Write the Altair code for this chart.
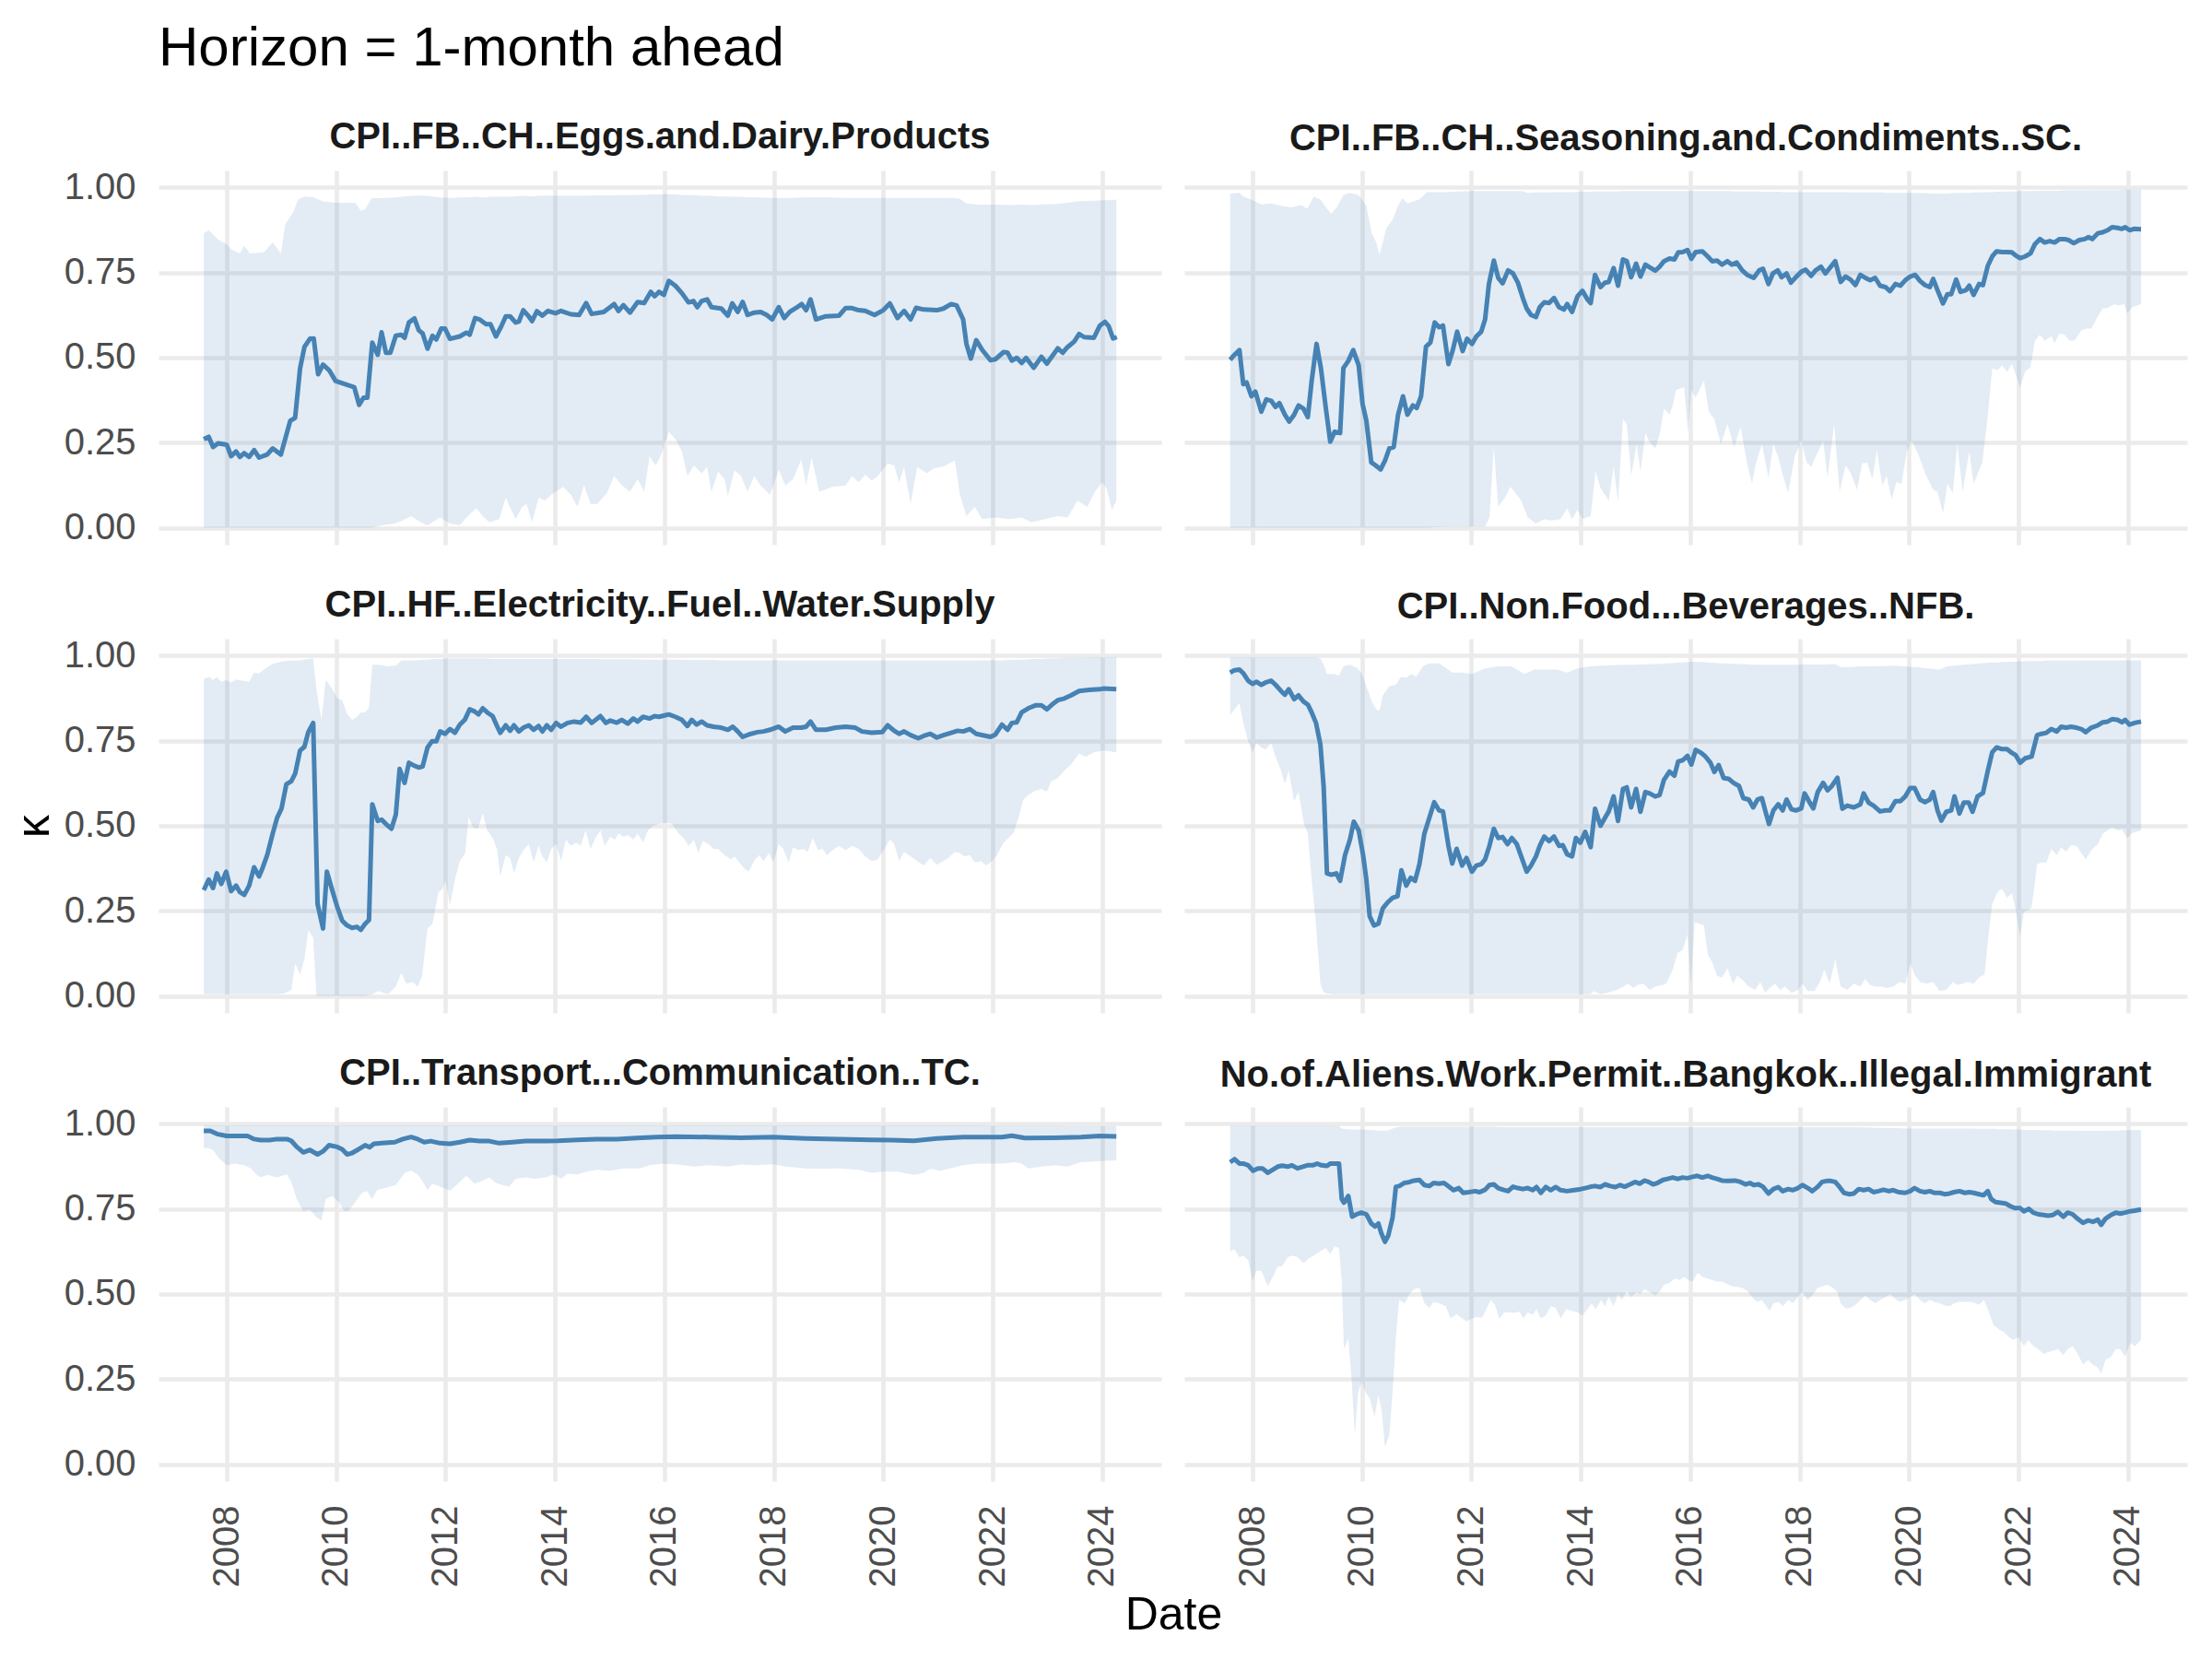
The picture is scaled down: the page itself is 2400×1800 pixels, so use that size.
import altair as alt
import pandas as pd

TITLE = "Horizon = 1-month ahead"
panel_names = [
    "CPI..FB..CH..Eggs.and.Dairy.Products",
    "CPI..FB..CH..Seasoning.and.Condiments..SC.",
    "CPI..HF..Electricity..Fuel..Water.Supply",
    "CPI..Non.Food...Beverages..NFB.",
    "CPI..Transport...Communication..TC.",
    "No.of.Aliens.Work.Permit..Bangkok..Illegal.Immigrant",
]
year_ticks = [2008, 2010, 2012, 2014, 2016, 2018, 2020, 2022, 2024]
k_ticks = [0.0, 0.25, 0.5, 0.75, 1.0]

# ---------------- Panel 1: Eggs and Dairy ----------------
eggs_line = [(2007.58,0.26),(2007.67,0.267),(2007.75,0.237),(2007.84,0.248),(2008.00,0.244),(2008.08,0.21),(2008.17,0.224),(2008.24,0.208),(2008.32,0.219),(2008.41,0.208),(2008.50,0.228),(2008.59,0.206),(2008.74,0.215),(2008.84,0.233),(2008.99,0.215),(2009.16,0.314),(2009.25,0.323),(2009.34,0.468),(2009.42,0.531),(2009.52,0.555),(2009.59,0.556),(2009.67,0.451),(2009.76,0.479),(2009.87,0.463),(2009.99,0.431),(2010.23,0.418),(2010.33,0.413),(2010.42,0.361),(2010.50,0.382),(2010.57,0.382),(2010.66,0.544),(2010.76,0.508),(2010.83,0.574),(2010.91,0.514),(2010.99,0.514),(2011.09,0.564),(2011.19,0.567),(2011.25,0.558),(2011.33,0.603),(2011.43,0.615),(2011.51,0.58),(2011.58,0.571),(2011.67,0.526),(2011.76,0.564),(2011.83,0.553),(2011.92,0.585),(2011.99,0.585),(2012.08,0.555),(2012.26,0.562),(2012.38,0.573),(2012.44,0.567),(2012.54,0.616),(2012.62,0.612),(2012.74,0.598),(2012.82,0.598),(2012.92,0.562),(2013.01,0.589),(2013.10,0.621),(2013.18,0.621),(2013.28,0.603),(2013.34,0.606),(2013.42,0.639),(2013.52,0.621),(2013.58,0.607),(2013.67,0.636),(2013.77,0.623),(2013.87,0.637),(2014.01,0.63),(2014.11,0.637),(2014.29,0.627),(2014.44,0.625),(2014.57,0.66),(2014.67,0.628),(2014.89,0.634),(2015.08,0.657),(2015.16,0.637),(2015.25,0.654),(2015.37,0.632),(2015.51,0.663),(2015.63,0.66),(2015.75,0.693),(2015.82,0.68),(2015.90,0.693),(2015.99,0.684),(2016.08,0.725),(2016.20,0.711),(2016.32,0.689),(2016.44,0.662),(2016.53,0.666),(2016.60,0.648),(2016.68,0.666),(2016.78,0.671),(2016.86,0.648),(2017.04,0.644),(2017.16,0.623),(2017.24,0.659),(2017.34,0.634),(2017.43,0.663),(2017.52,0.625),(2017.64,0.632),(2017.76,0.634),(2017.87,0.625),(2017.97,0.612),(2018.09,0.648),(2018.19,0.616),(2018.29,0.634),(2018.41,0.646),(2018.51,0.657),(2018.59,0.639),(2018.67,0.671),(2018.77,0.612),(2018.95,0.621),(2019.19,0.623),(2019.31,0.645),(2019.43,0.645),(2019.55,0.639),(2019.67,0.637),(2019.84,0.625),(2020.00,0.639),(2020.12,0.659),(2020.26,0.616),(2020.38,0.637),(2020.50,0.612),(2020.60,0.646),(2020.74,0.641),(2020.98,0.639),(2021.10,0.644),(2021.24,0.657),(2021.34,0.653),(2021.46,0.612),(2021.52,0.54),(2021.60,0.497),(2021.70,0.551),(2021.81,0.522),(2021.96,0.492),(2022.05,0.495),(2022.20,0.516),(2022.27,0.515),(2022.35,0.491),(2022.44,0.499),(2022.53,0.484),(2022.61,0.499),(2022.75,0.47),(2022.89,0.502),(2022.99,0.482),(2023.19,0.527),(2023.28,0.514),(2023.37,0.531),(2023.49,0.547),(2023.58,0.569),(2023.67,0.56),(2023.85,0.558),(2023.96,0.594),(2024.05,0.605),(2024.12,0.592),(2024.20,0.556),(2024.27,0.56)]
eggs_band = [(2007.58,0,0.865),(2007.67,0,0.874),(2007.84,0,0.847),(2008.00,0,0.833),(2008.08,0,0.818),(2008.24,0,0.806),(2008.32,0,0.829),(2008.42,0,0.806),(2008.68,0,0.809),(2008.84,0,0.838),(2008.99,0,0.806),(2009.07,0,0.892),(2009.22,0,0.928),(2009.30,0,0.964),(2009.42,0,0.973),(2009.58,0,0.971),(2009.76,0,0.959),(2009.99,0,0.955),(2010.35,0,0.955),(2010.45,0,0.932),(2010.53,0,0.936),(2010.65,0,0.968),(2010.83,0.007,0.968),(2011.07,0.012,0.97),(2011.19,0.02,0.972),(2011.37,0.034,0.975),(2011.55,0.016,0.976),(2011.67,0.007,0.975),(2011.90,0.03,0.97),(2012.08,0.012,0.969),(2012.26,0.007,0.97),(2012.38,0.03,0.971),(2012.56,0.057,0.972),(2012.68,0.034,0.97),(2012.80,0.016,0.972),(2012.98,0.025,0.973),(2013.10,0.088,0.972),(2013.28,0.025,0.974),(2013.40,0.061,0.975),(2013.48,0.07,0.975),(2013.58,0.016,0.974),(2013.70,0.088,0.975),(2013.82,0.079,0.976),(2013.93,0.097,0.976),(2014.15,0.12,0.975),(2014.29,0.097,0.976),(2014.41,0.061,0.975),(2014.53,0.125,0.976),(2014.65,0.07,0.976),(2014.77,0.07,0.977),(2014.95,0.102,0.976),(2015.08,0.152,0.977),(2015.22,0.125,0.977),(2015.37,0.106,0.977),(2015.51,0.143,0.978),(2015.63,0.106,0.978),(2015.73,0.21,0.979),(2015.84,0.183,0.979),(2015.94,0.214,0.98),(2016.08,0.282,0.98),(2016.20,0.26,0.979),(2016.32,0.224,0.978),(2016.42,0.152,0.977),(2016.54,0.183,0.977),(2016.68,0.16,0.976),(2016.78,0.178,0.975),(2016.86,0.106,0.975),(2016.98,0.165,0.974),(2017.10,0.142,0.973),(2017.16,0.093,0.973),(2017.28,0.169,0.972),(2017.40,0.152,0.972),(2017.52,0.106,0.971),(2017.64,0.152,0.971),(2017.76,0.124,0.97),(2017.93,0.097,0.969),(2018.09,0.17,0.969),(2018.21,0.124,0.969),(2018.35,0.142,0.969),(2018.50,0.2,0.97),(2018.59,0.124,0.97),(2018.69,0.206,0.97),(2018.83,0.106,0.97),(2019.07,0.12,0.97),(2019.31,0.124,0.969),(2019.43,0.152,0.969),(2019.55,0.133,0.969),(2019.67,0.156,0.969),(2019.79,0.138,0.969),(2019.90,0.152,0.969),(2020.08,0.188,0.969),(2020.20,0.183,0.969),(2020.29,0.133,0.969),(2020.38,0.178,0.969),(2020.50,0.07,0.969),(2020.62,0.178,0.969),(2020.80,0.16,0.969),(2020.92,0.174,0.969),(2021.10,0.18,0.969),(2021.31,0.197,0.969),(2021.40,0.097,0.966),(2021.52,0.034,0.953),(2021.67,0.061,0.95),(2021.81,0.025,0.949),(2022.05,0.03,0.949),(2022.29,0.025,0.948),(2022.53,0.03,0.949),(2022.71,0.016,0.948),(2022.95,0.025,0.95),(2023.19,0.034,0.951),(2023.37,0.03,0.955),(2023.55,0.079,0.959),(2023.73,0.061,0.96),(2023.87,0.106,0.961),(2024.00,0.134,0.962),(2024.08,0.115,0.962),(2024.18,0.052,0.963),(2024.26,0.079,0.964)]

# ---------------- Panel 2: Seasoning and Condiments ----------------
seas_line = [(2007.59,0.493),(2007.67,0.508),(2007.76,0.522),(2007.83,0.422),(2007.89,0.427),(2007.98,0.386),(2008.05,0.40),(2008.16,0.341),(2008.25,0.377),(2008.34,0.373),(2008.42,0.355),(2008.49,0.366),(2008.59,0.332),(2008.67,0.312),(2008.76,0.332),(2008.84,0.359),(2008.93,0.35),(2009.01,0.325),(2009.08,0.431),(2009.17,0.54),(2009.25,0.468),(2009.34,0.35),(2009.42,0.253),(2009.50,0.282),(2009.60,0.278),(2009.66,0.469),(2009.75,0.49),(2009.84,0.522),(2009.94,0.477),(2010.01,0.364),(2010.08,0.314),(2010.17,0.192),(2010.25,0.183),(2010.34,0.171),(2010.42,0.197),(2010.50,0.233),(2010.58,0.237),(2010.66,0.332),(2010.75,0.386),(2010.83,0.332),(2010.93,0.359),(2011.00,0.352),(2011.08,0.386),(2011.17,0.532),(2011.25,0.544),(2011.33,0.603),(2011.41,0.589),(2011.48,0.594),(2011.58,0.481),(2011.66,0.522),(2011.74,0.576),(2011.84,0.519),(2011.92,0.555),(2012.01,0.54),(2012.09,0.562),(2012.18,0.576),(2012.25,0.612),(2012.32,0.716),(2012.41,0.785),(2012.49,0.734),(2012.57,0.718),(2012.67,0.756),(2012.76,0.747),(2012.85,0.72),(2012.94,0.675),(2013.01,0.644),(2013.09,0.625),(2013.18,0.619),(2013.25,0.648),(2013.33,0.662),(2013.42,0.66),(2013.51,0.675),(2013.60,0.648),(2013.69,0.641),(2013.75,0.657),(2013.84,0.634),(2013.94,0.68),(2014.03,0.696),(2014.12,0.671),(2014.18,0.66),(2014.26,0.743),(2014.36,0.707),(2014.44,0.72),(2014.51,0.722),(2014.60,0.763),(2014.68,0.711),(2014.77,0.788),(2014.84,0.783),(2014.92,0.736),(2015.01,0.776),(2015.09,0.738),(2015.18,0.773),(2015.26,0.765),(2015.36,0.755),(2015.44,0.767),(2015.52,0.783),(2015.62,0.791),(2015.71,0.788),(2015.78,0.809),(2015.86,0.81),(2015.95,0.816),(2016.02,0.79),(2016.10,0.81),(2016.22,0.812),(2016.32,0.797),(2016.40,0.783),(2016.49,0.785),(2016.58,0.773),(2016.68,0.783),(2016.76,0.773),(2016.85,0.779),(2016.95,0.756),(2017.04,0.743),(2017.16,0.734),(2017.26,0.756),(2017.33,0.761),(2017.43,0.716),(2017.51,0.747),(2017.60,0.756),(2017.67,0.736),(2017.76,0.747),(2017.84,0.72),(2017.93,0.736),(2018.03,0.752),(2018.11,0.758),(2018.21,0.74),(2018.29,0.756),(2018.39,0.767),(2018.47,0.747),(2018.57,0.767),(2018.65,0.783),(2018.75,0.722),(2018.84,0.738),(2018.93,0.729),(2019.02,0.713),(2019.11,0.743),(2019.20,0.734),(2019.29,0.727),(2019.38,0.734),(2019.47,0.711),(2019.57,0.707),(2019.65,0.695),(2019.75,0.716),(2019.84,0.711),(2019.93,0.727),(2020.02,0.738),(2020.11,0.743),(2020.20,0.725),(2020.29,0.713),(2020.38,0.707),(2020.44,0.731),(2020.52,0.698),(2020.62,0.659),(2020.70,0.686),(2020.77,0.686),(2020.86,0.729),(2020.94,0.693),(2021.04,0.698),(2021.10,0.711),(2021.18,0.684),(2021.28,0.716),(2021.35,0.713),(2021.44,0.77),(2021.52,0.797),(2021.60,0.812),(2021.70,0.81),(2021.79,0.81),(2021.88,0.809),(2021.94,0.801),(2022.03,0.792),(2022.12,0.797),(2022.22,0.806),(2022.30,0.833),(2022.39,0.848),(2022.48,0.838),(2022.57,0.842),(2022.66,0.838),(2022.75,0.848),(2022.84,0.848),(2022.92,0.845),(2023.01,0.836),(2023.11,0.845),(2023.21,0.848),(2023.28,0.854),(2023.35,0.848),(2023.45,0.865),(2023.54,0.868),(2023.63,0.874),(2023.71,0.883),(2023.81,0.881),(2023.89,0.878),(2023.95,0.883),(2024.03,0.874),(2024.11,0.878),(2024.24,0.877)]
seas_band = [(2007.59,0,0.982),(2007.76,0,0.984),(2007.83,0,0.973),(2007.98,0,0.964),(2008.16,0,0.95),(2008.34,0,0.953),(2008.52,0,0.946),(2008.70,0,0.941),(2008.88,0,0.948),(2009.00,0,0.937),(2009.12,0,0.973),(2009.24,0,0.964),(2009.36,0,0.937),(2009.44,0,0.923),(2009.54,0,0.941),(2009.66,0,0.977),(2009.78,0,0.984),(2009.94,0,0.977),(2010.08,0,0.946),(2010.18,0,0.865),(2010.26,0,0.838),(2010.32,0,0.801),(2010.38,0,0.838),(2010.44,0,0.878),(2010.56,0,0.905),(2010.66,0,0.946),(2010.74,0,0.968),(2010.83,0,0.953),(2010.93,0,0.959),(2011.05,0,0.964),(2011.19,0,0.986),(2011.53,0.003,0.986),(2012.01,0.003,0.989),(2012.25,0.003,0.989),(2012.33,0.03,0.989),(2012.41,0.237,0.989),(2012.49,0.061,0.989),(2012.61,0.088,0.989),(2012.71,0.12,0.989),(2012.79,0.106,0.989),(2012.91,0.079,0.989),(2013.03,0.03,0.984),(2013.18,0.012,0.985),(2013.33,0.025,0.985),(2013.45,0.021,0.986),(2013.63,0.025,0.986),(2013.75,0.057,0.986),(2013.84,0.025,0.986),(2013.94,0.052,0.987),(2014.03,0.025,0.987),(2014.18,0.034,0.987),(2014.27,0.165,0.988),(2014.36,0.116,0.988),(2014.44,0.097,0.988),(2014.51,0.079,0.988),(2014.60,0.179,0.988),(2014.68,0.075,0.988),(2014.77,0.319,0.989),(2014.84,0.305,0.989),(2014.92,0.152,0.989),(2015.02,0.246,0.989),(2015.09,0.165,0.989),(2015.18,0.278,0.989),(2015.26,0.251,0.989),(2015.36,0.233,0.989),(2015.44,0.273,0.989),(2015.52,0.35,0.989),(2015.62,0.332,0.989),(2015.68,0.359,0.989),(2015.74,0.404,0.989),(2015.89,0.413,0.989),(2015.96,0.278,0.989),(2016.02,0.404,0.989),(2016.10,0.382,0.989),(2016.25,0.433,0.989),(2016.34,0.341,0.989),(2016.44,0.319,0.989),(2016.56,0.246,0.989),(2016.68,0.305,0.989),(2016.80,0.237,0.988),(2016.92,0.296,0.988),(2017.04,0.188,0.988),(2017.13,0.129,0.988),(2017.19,0.183,0.988),(2017.31,0.246,0.987),(2017.43,0.147,0.987),(2017.52,0.246,0.987),(2017.61,0.206,0.987),(2017.69,0.156,0.986),(2017.79,0.102,0.986),(2017.91,0.21,0.986),(2018.03,0.255,0.986),(2018.13,0.192,0.986),(2018.21,0.179,0.986),(2018.31,0.215,0.986),(2018.43,0.255,0.986),(2018.51,0.147,0.986),(2018.63,0.305,0.986),(2018.73,0.106,0.986),(2018.84,0.183,0.986),(2018.93,0.161,0.985),(2019.05,0.111,0.985),(2019.14,0.188,0.985),(2019.23,0.192,0.985),(2019.33,0.143,0.985),(2019.41,0.228,0.985),(2019.51,0.125,0.985),(2019.59,0.152,0.984),(2019.68,0.084,0.984),(2019.77,0.134,0.984),(2019.86,0.129,0.984),(2019.96,0.224,0.984),(2020.05,0.255,0.984),(2020.17,0.215,0.983),(2020.29,0.161,0.983),(2020.44,0.111,0.982),(2020.52,0.106,0.982),(2020.62,0.043,0.982),(2020.70,0.129,0.982),(2020.80,0.102,0.983),(2020.88,0.246,0.983),(2020.98,0.106,0.984),(2021.10,0.224,0.984),(2021.18,0.129,0.985),(2021.34,0.192,0.985),(2021.44,0.332,0.986),(2021.52,0.468,0.986),(2021.62,0.463,0.987),(2021.70,0.477,0.987),(2021.79,0.458,0.988),(2021.88,0.481,0.988),(2021.94,0.454,0.988),(2022.03,0.413,0.989),(2022.12,0.458,0.989),(2022.22,0.472,0.989),(2022.30,0.549,0.989),(2022.39,0.567,0.99),(2022.48,0.549,0.99),(2022.60,0.563,0.99),(2022.66,0.542,0.99),(2022.75,0.571,0.99),(2022.84,0.567,0.991),(2022.94,0.549,0.991),(2023.03,0.551,0.991),(2023.15,0.58,0.991),(2023.24,0.585,0.991),(2023.33,0.585,0.991),(2023.45,0.621,0.992),(2023.54,0.644,0.992),(2023.63,0.646,0.992),(2023.75,0.657,0.992),(2023.83,0.653,0.992),(2023.93,0.657,0.993),(2023.99,0.63,0.993),(2024.08,0.648,0.993),(2024.24,0.657,0.993)]

# ---------------- Panel 3: Electricity, Fuel, Water ----------------
elec_line = [(2007.58,0.311),(2007.67,0.342),(2007.75,0.317),(2007.82,0.36),(2007.90,0.329),(2007.99,0.365),(2008.08,0.308),(2008.17,0.324),(2008.24,0.305),(2008.32,0.297),(2008.41,0.324),(2008.50,0.378),(2008.59,0.351),(2008.66,0.378),(2008.74,0.414),(2008.84,0.477),(2008.92,0.523),(2009.00,0.55),(2009.09,0.622),(2009.18,0.631),(2009.25,0.653),(2009.34,0.721),(2009.42,0.732),(2009.49,0.775),(2009.58,0.802),(2009.66,0.27),(2009.76,0.198),(2009.83,0.365),(2009.92,0.315),(2010.02,0.261),(2010.11,0.221),(2010.20,0.207),(2010.29,0.2),(2010.38,0.203),(2010.45,0.194),(2010.53,0.212),(2010.60,0.223),(2010.66,0.563),(2010.76,0.514),(2010.83,0.518),(2010.91,0.505),(2011.01,0.491),(2011.09,0.532),(2011.16,0.667),(2011.25,0.626),(2011.33,0.685),(2011.43,0.676),(2011.51,0.671),(2011.58,0.674),(2011.67,0.73),(2011.75,0.748),(2011.83,0.748),(2011.90,0.777),(2011.99,0.77),(2012.08,0.784),(2012.17,0.773),(2012.26,0.797),(2012.35,0.811),(2012.44,0.842),(2012.53,0.836),(2012.60,0.827),(2012.68,0.845),(2012.76,0.833),(2012.86,0.822),(2012.94,0.793),(2013.00,0.773),(2013.10,0.795),(2013.18,0.779),(2013.25,0.795),(2013.34,0.777),(2013.42,0.788),(2013.52,0.795),(2013.61,0.782),(2013.70,0.793),(2013.77,0.777),(2013.85,0.795),(2013.93,0.782),(2014.02,0.802),(2014.11,0.791),(2014.23,0.802),(2014.35,0.806),(2014.47,0.803),(2014.57,0.82),(2014.67,0.802),(2014.83,0.822),(2014.93,0.802),(2015.01,0.809),(2015.13,0.803),(2015.22,0.811),(2015.33,0.8),(2015.43,0.815),(2015.51,0.806),(2015.61,0.82),(2015.73,0.815),(2015.82,0.822),(2015.90,0.82),(2016.00,0.824),(2016.08,0.827),(2016.20,0.82),(2016.32,0.811),(2016.42,0.793),(2016.50,0.811),(2016.59,0.797),(2016.68,0.806),(2016.78,0.795),(2016.90,0.791),(2017.04,0.788),(2017.16,0.782),(2017.25,0.791),(2017.34,0.777),(2017.43,0.761),(2017.58,0.77),(2017.70,0.775),(2017.81,0.777),(2017.93,0.782),(2018.09,0.791),(2018.21,0.777),(2018.35,0.788),(2018.50,0.788),(2018.59,0.791),(2018.67,0.806),(2018.77,0.782),(2018.95,0.782),(2019.13,0.788),(2019.31,0.791),(2019.49,0.788),(2019.61,0.777),(2019.79,0.773),(2019.98,0.775),(2020.08,0.795),(2020.20,0.779),(2020.29,0.77),(2020.38,0.777),(2020.50,0.766),(2020.64,0.757),(2020.74,0.764),(2020.86,0.77),(2020.98,0.759),(2021.10,0.766),(2021.24,0.773),(2021.36,0.779),(2021.46,0.777),(2021.58,0.784),(2021.70,0.77),(2021.82,0.766),(2021.96,0.761),(2022.05,0.768),(2022.17,0.797),(2022.27,0.782),(2022.35,0.802),(2022.44,0.804),(2022.53,0.833),(2022.65,0.845),(2022.79,0.854),(2022.89,0.854),(2022.99,0.842),(2023.10,0.858),(2023.19,0.869),(2023.31,0.874),(2023.43,0.883),(2023.58,0.896),(2023.76,0.899),(2023.96,0.901),(2024.02,0.903),(2024.26,0.901)]
elec_band = [(2007.58,0.005,0.932),(2007.67,0.005,0.937),(2007.75,0.005,0.928),(2007.82,0.005,0.937),(2007.90,0.005,0.923),(2007.99,0.005,0.928),(2008.08,0.005,0.921),(2008.17,0.005,0.93),(2008.41,0.005,0.923),(2008.50,0.005,0.95),(2008.59,0.005,0.947),(2008.68,0.005,0.959),(2008.84,0.005,0.976),(2009.04,0.006,0.984),(2009.18,0.018,0.985),(2009.25,0.095,0.985),(2009.34,0.063,0.986),(2009.42,0.108,0.988),(2009.49,0.194,0.99),(2009.58,0.171,0.991),(2009.64,0.0,0.901),(2009.73,0.0,0.811),(2009.81,0.0,0.928),(2009.93,0.0,0.901),(2010.02,0.0,0.874),(2010.11,0.0,0.869),(2010.20,0.0,0.829),(2010.29,0.0,0.811),(2010.38,0.0,0.82),(2010.45,0.0,0.833),(2010.53,0.0,0.833),(2010.60,0.003,0.847),(2010.66,0.005,0.973),(2010.77,0.014,0.973),(2010.95,0.005,0.968),(2011.09,0.027,0.97),(2011.19,0.068,0.985),(2011.28,0.036,0.985),(2011.40,0.041,0.986),(2011.49,0.027,0.986),(2011.57,0.059,0.987),(2011.67,0.198,0.988),(2011.76,0.212,0.989),(2011.87,0.306,0.99),(2011.93,0.311,0.99),(2012.00,0.338,0.991),(2012.08,0.266,0.991),(2012.17,0.342,0.991),(2012.26,0.396,0.991),(2012.36,0.419,0.991),(2012.42,0.527,0.991),(2012.50,0.495,0.991),(2012.59,0.491,0.991),(2012.68,0.536,0.991),(2012.76,0.486,0.991),(2012.86,0.464,0.99),(2012.94,0.432,0.99),(2013.00,0.351,0.99),(2013.10,0.414,0.99),(2013.18,0.405,0.99),(2013.25,0.36,0.99),(2013.34,0.405,0.99),(2013.42,0.428,0.99),(2013.52,0.446,0.99),(2013.61,0.392,0.99),(2013.70,0.441,0.99),(2013.77,0.41,0.99),(2013.85,0.392,0.99),(2013.93,0.432,0.99),(2014.02,0.446,0.99),(2014.11,0.396,0.99),(2014.20,0.459,0.99),(2014.29,0.441,0.99),(2014.39,0.45,0.99),(2014.47,0.441,0.99),(2014.56,0.486,0.99),(2014.65,0.432,0.99),(2014.75,0.468,0.99),(2014.83,0.486,0.989),(2014.91,0.441,0.989),(2015.01,0.468,0.989),(2015.09,0.459,0.989),(2015.16,0.477,0.989),(2015.25,0.468,0.989),(2015.34,0.473,0.989),(2015.43,0.459,0.989),(2015.51,0.477,0.989),(2015.61,0.45,0.988),(2015.70,0.486,0.988),(2015.79,0.5,0.988),(2015.90,0.505,0.988),(2016.02,0.509,0.988),(2016.14,0.505,0.988),(2016.26,0.477,0.988),(2016.35,0.464,0.988),(2016.44,0.441,0.987),(2016.54,0.459,0.987),(2016.62,0.419,0.987),(2016.70,0.455,0.987),(2016.80,0.446,0.987),(2016.90,0.432,0.987),(2016.98,0.432,0.986),(2017.10,0.414,0.986),(2017.22,0.401,0.986),(2017.28,0.41,0.986),(2017.37,0.392,0.986),(2017.46,0.374,0.986),(2017.54,0.365,0.986),(2017.64,0.396,0.986),(2017.73,0.414,0.986),(2017.81,0.396,0.986),(2017.91,0.419,0.986),(2017.99,0.392,0.986),(2018.09,0.446,0.986),(2018.17,0.432,0.985),(2018.27,0.392,0.985),(2018.35,0.437,0.985),(2018.45,0.428,0.985),(2018.53,0.432,0.985),(2018.62,0.423,0.985),(2018.71,0.464,0.985),(2018.81,0.428,0.985),(2018.89,0.432,0.985),(2018.97,0.414,0.985),(2019.07,0.428,0.985),(2019.19,0.441,0.985),(2019.31,0.428,0.985),(2019.43,0.441,0.985),(2019.55,0.432,0.985),(2019.67,0.41,0.985),(2019.79,0.396,0.985),(2019.90,0.401,0.985),(2020.02,0.432,0.985),(2020.12,0.459,0.985),(2020.20,0.446,0.985),(2020.29,0.396,0.985),(2020.38,0.423,0.985),(2020.50,0.41,0.985),(2020.62,0.396,0.985),(2020.74,0.383,0.985),(2020.86,0.405,0.985),(2020.98,0.385,0.985),(2021.10,0.396,0.985),(2021.19,0.405,0.985),(2021.31,0.423,0.985),(2021.40,0.419,0.985),(2021.48,0.41,0.985),(2021.58,0.414,0.985),(2021.67,0.392,0.985),(2021.79,0.396,0.985),(2021.88,0.383,0.986),(2021.99,0.396,0.986),(2022.08,0.414,0.986),(2022.20,0.45,0.986),(2022.29,0.464,0.987),(2022.39,0.482,0.987),(2022.47,0.523,0.988),(2022.56,0.577,0.988),(2022.65,0.59,0.989),(2022.77,0.602,0.99),(2022.89,0.608,0.99),(2022.99,0.6,0.991),(2023.07,0.631,0.991),(2023.19,0.64,0.992),(2023.31,0.662,0.993),(2023.43,0.68,0.993),(2023.58,0.712,0.994),(2023.70,0.703,0.994),(2023.85,0.716,0.995),(2024.03,0.721,0.995),(2024.26,0.716,0.995)]

# ---------------- Panel 4: Non-Food & Beverages ----------------
nfb_line = [(2007.59,0.95),(2007.67,0.957),(2007.76,0.959),(2007.83,0.948),(2007.92,0.926),(2008.00,0.917),(2008.07,0.923),(2008.16,0.914),(2008.24,0.921),(2008.34,0.926),(2008.42,0.914),(2008.52,0.896),(2008.59,0.885),(2008.66,0.901),(2008.76,0.872),(2008.84,0.883),(2008.93,0.865),(2009.01,0.856),(2009.08,0.833),(2009.16,0.802),(2009.24,0.739),(2009.30,0.613),(2009.36,0.36),(2009.44,0.356),(2009.53,0.36),(2009.60,0.338),(2009.69,0.414),(2009.78,0.459),(2009.85,0.512),(2009.94,0.486),(2010.02,0.414),(2010.08,0.342),(2010.14,0.234),(2010.22,0.207),(2010.30,0.212),(2010.38,0.257),(2010.47,0.275),(2010.56,0.288),(2010.65,0.293),(2010.72,0.369),(2010.81,0.324),(2010.89,0.347),(2010.97,0.338),(2011.05,0.387),(2011.14,0.477),(2011.23,0.523),(2011.32,0.569),(2011.41,0.545),(2011.48,0.542),(2011.58,0.441),(2011.65,0.389),(2011.73,0.432),(2011.83,0.383),(2011.91,0.405),(2012.01,0.365),(2012.09,0.383),(2012.18,0.387),(2012.25,0.401),(2012.33,0.441),(2012.41,0.491),(2012.49,0.464),(2012.57,0.467),(2012.66,0.446),(2012.74,0.464),(2012.83,0.446),(2012.91,0.41),(2013.01,0.365),(2013.09,0.383),(2013.18,0.41),(2013.25,0.441),(2013.33,0.468),(2013.42,0.455),(2013.51,0.468),(2013.60,0.441),(2013.67,0.443),(2013.75,0.416),(2013.84,0.41),(2013.91,0.464),(2013.99,0.45),(2014.08,0.482),(2014.18,0.437),(2014.26,0.55),(2014.36,0.5),(2014.44,0.523),(2014.51,0.542),(2014.60,0.586),(2014.68,0.514),(2014.77,0.608),(2014.84,0.613),(2014.92,0.554),(2015.01,0.608),(2015.09,0.541),(2015.18,0.599),(2015.26,0.595),(2015.36,0.586),(2015.44,0.59),(2015.52,0.635),(2015.62,0.659),(2015.71,0.647),(2015.78,0.689),(2015.86,0.692),(2015.95,0.705),(2016.02,0.68),(2016.10,0.723),(2016.20,0.714),(2016.28,0.703),(2016.37,0.685),(2016.44,0.658),(2016.52,0.678),(2016.61,0.64),(2016.70,0.638),(2016.79,0.626),(2016.89,0.617),(2016.97,0.581),(2017.07,0.577),(2017.15,0.554),(2017.23,0.577),(2017.31,0.581),(2017.37,0.545),(2017.44,0.505),(2017.52,0.545),(2017.61,0.563),(2017.69,0.545),(2017.76,0.577),(2017.85,0.548),(2017.93,0.545),(2018.03,0.551),(2018.09,0.595),(2018.17,0.572),(2018.25,0.551),(2018.33,0.599),(2018.43,0.626),(2018.51,0.604),(2018.59,0.617),(2018.69,0.641),(2018.78,0.55),(2018.87,0.559),(2018.99,0.554),(2019.11,0.563),(2019.17,0.595),(2019.26,0.568),(2019.35,0.559),(2019.47,0.542),(2019.57,0.545),(2019.65,0.545),(2019.75,0.572),(2019.84,0.572),(2019.93,0.586),(2020.02,0.611),(2020.10,0.611),(2020.20,0.577),(2020.29,0.569),(2020.38,0.577),(2020.44,0.599),(2020.52,0.545),(2020.59,0.515),(2020.68,0.541),(2020.77,0.545),(2020.83,0.586),(2020.92,0.536),(2021.00,0.568),(2021.09,0.568),(2021.16,0.541),(2021.25,0.586),(2021.35,0.596),(2021.44,0.662),(2021.52,0.716),(2021.60,0.73),(2021.70,0.725),(2021.79,0.725),(2021.88,0.714),(2021.95,0.707),(2022.03,0.685),(2022.12,0.698),(2022.24,0.703),(2022.34,0.766),(2022.42,0.77),(2022.51,0.773),(2022.60,0.784),(2022.70,0.777),(2022.78,0.791),(2022.87,0.788),(2022.96,0.791),(2023.06,0.788),(2023.15,0.784),(2023.23,0.775),(2023.33,0.788),(2023.45,0.795),(2023.54,0.804),(2023.63,0.806),(2023.71,0.813),(2023.81,0.811),(2023.89,0.804),(2023.95,0.811),(2024.03,0.797),(2024.12,0.802),(2024.24,0.806)]
nfb_band = [(2007.59,0.824,0.995),(2007.67,0.842,0.995),(2007.76,0.86,0.995),(2007.83,0.802,0.995),(2007.92,0.748,0.995),(2008.00,0.716,0.995),(2008.07,0.743,0.995),(2008.16,0.73,0.995),(2008.24,0.723,0.995),(2008.34,0.743,0.995),(2008.42,0.703,0.995),(2008.52,0.662,0.995),(2008.59,0.622,0.995),(2008.66,0.662,0.995),(2008.76,0.572,0.995),(2008.84,0.599,0.995),(2008.94,0.505,0.995),(2009.01,0.477,0.995),(2009.08,0.342,0.995),(2009.16,0.207,0.995),(2009.24,0.036,0.991),(2009.30,0.01,0.973),(2009.36,0.007,0.946),(2009.48,0.005,0.946),(2009.58,0.005,0.941),(2009.66,0.005,0.968),(2009.78,0.005,0.973),(2009.90,0.005,0.964),(2009.99,0.005,0.95),(2010.08,0.005,0.91),(2010.18,0.005,0.865),(2010.26,0.005,0.842),(2010.32,0.005,0.838),(2010.38,0.005,0.883),(2010.50,0.005,0.91),(2010.62,0.005,0.914),(2010.71,0.005,0.937),(2010.81,0.005,0.935),(2010.90,0.005,0.946),(2010.99,0.005,0.937),(2011.11,0.005,0.968),(2011.23,0.005,0.977),(2011.41,0.005,0.977),(2011.53,0.005,0.964),(2011.65,0.005,0.95),(2011.83,0.005,0.95),(2012.01,0.005,0.946),(2012.25,0.005,0.962),(2012.49,0.005,0.968),(2012.73,0.005,0.968),(2012.97,0.005,0.946),(2013.15,0.005,0.959),(2013.57,0.005,0.959),(2013.75,0.005,0.95),(2013.94,0.005,0.962),(2014.18,0.005,0.968),(2014.24,0.014,0.969),(2014.36,0.005,0.97),(2014.48,0.009,0.971),(2014.66,0.018,0.972),(2014.78,0.027,0.973),(2014.86,0.036,0.973),(2014.96,0.023,0.973),(2015.04,0.032,0.974),(2015.14,0.036,0.974),(2015.26,0.018,0.975),(2015.36,0.027,0.975),(2015.48,0.032,0.976),(2015.56,0.036,0.977),(2015.68,0.077,0.978),(2015.77,0.126,0.979),(2015.86,0.135,0.98),(2015.95,0.18,0.981),(2016.01,0.027,0.982),(2016.08,0.216,0.982),(2016.16,0.212,0.981),(2016.25,0.207,0.981),(2016.32,0.122,0.98),(2016.40,0.099,0.979),(2016.49,0.059,0.978),(2016.58,0.054,0.977),(2016.68,0.081,0.977),(2016.78,0.036,0.976),(2016.86,0.059,0.975),(2016.97,0.045,0.975),(2017.07,0.027,0.974),(2017.19,0.018,0.973),(2017.28,0.041,0.973),(2017.37,0.009,0.973),(2017.45,0.023,0.973),(2017.55,0.036,0.973),(2017.64,0.018,0.973),(2017.73,0.027,0.973),(2017.85,0.009,0.973),(2017.97,0.018,0.973),(2018.05,0.036,0.974),(2018.15,0.014,0.974),(2018.27,0.014,0.974),(2018.37,0.041,0.974),(2018.45,0.077,0.974),(2018.55,0.036,0.975),(2018.65,0.108,0.975),(2018.75,0.027,0.966),(2018.87,0.018,0.966),(2018.99,0.036,0.967),(2019.11,0.027,0.968),(2019.20,0.05,0.968),(2019.29,0.032,0.968),(2019.38,0.027,0.969),(2019.50,0.027,0.969),(2019.59,0.023,0.969),(2019.71,0.027,0.97),(2019.83,0.041,0.969),(2019.93,0.036,0.968),(2020.02,0.095,0.967),(2020.10,0.063,0.966),(2020.20,0.041,0.965),(2020.32,0.036,0.963),(2020.44,0.041,0.961),(2020.56,0.014,0.959),(2020.68,0.018,0.968),(2020.80,0.041,0.97),(2020.88,0.032,0.971),(2020.98,0.036,0.973),(2021.07,0.041,0.974),(2021.18,0.036,0.975),(2021.28,0.054,0.977),(2021.38,0.063,0.978),(2021.44,0.162,0.979),(2021.52,0.27,0.98),(2021.62,0.306,0.98),(2021.70,0.315,0.981),(2021.79,0.288,0.981),(2021.88,0.302,0.982),(2021.95,0.252,0.982),(2022.03,0.176,0.983),(2022.10,0.248,0.983),(2022.18,0.252,0.984),(2022.24,0.261,0.984),(2022.34,0.387,0.984),(2022.42,0.392,0.984),(2022.51,0.392,0.985),(2022.60,0.432,0.985),(2022.70,0.414,0.985),(2022.78,0.437,0.985),(2022.87,0.423,0.985),(2022.96,0.443,0.985),(2023.06,0.441,0.985),(2023.15,0.419,0.985),(2023.23,0.401,0.986),(2023.33,0.428,0.986),(2023.45,0.446,0.986),(2023.54,0.477,0.986),(2023.63,0.486,0.986),(2023.71,0.495,0.986),(2023.81,0.486,0.986),(2023.89,0.488,0.986),(2023.99,0.464,0.986),(2024.08,0.479,0.986),(2024.24,0.486,0.986)]

# ---------------- Panel 5: Transport & Communication ----------------
trans_line = [(2007.58,0.979),(2007.70,0.979),(2007.82,0.97),(2008.00,0.964),(2008.20,0.964),(2008.38,0.964),(2008.50,0.955),(2008.62,0.952),(2008.78,0.952),(2008.92,0.955),(2009.10,0.955),(2009.18,0.95),(2009.28,0.932),(2009.40,0.916),(2009.52,0.923),(2009.66,0.91),(2009.76,0.919),(2009.87,0.937),(2010.02,0.932),(2010.11,0.925),(2010.20,0.91),(2010.29,0.914),(2010.41,0.925),(2010.53,0.937),(2010.61,0.931),(2010.69,0.941),(2010.83,0.943),(2011.07,0.946),(2011.22,0.955),(2011.37,0.961),(2011.49,0.955),(2011.61,0.946),(2011.73,0.949),(2011.90,0.943),(2012.08,0.941),(2012.26,0.946),(2012.44,0.952),(2012.62,0.949),(2012.80,0.949),(2012.98,0.943),(2013.22,0.946),(2013.46,0.949),(2013.82,0.949),(2014.05,0.95),(2014.41,0.953),(2014.77,0.955),(2015.13,0.955),(2015.49,0.958),(2015.84,0.961),(2016.20,0.962),(2016.80,0.961),(2017.40,0.959),(2017.99,0.961),(2018.59,0.957),(2019.19,0.955),(2019.78,0.953),(2020.14,0.952),(2020.56,0.95),(2020.98,0.957),(2021.46,0.961),(2022.17,0.961),(2022.35,0.965),(2022.59,0.958),(2023.13,0.959),(2023.61,0.961),(2023.96,0.964),(2024.26,0.963)]
trans_band = [(2007.58,0.928,0.995),(2007.67,0.928,0.995),(2007.75,0.923,0.995),(2007.84,0.901,0.995),(2008.00,0.878,0.995),(2008.14,0.883,0.995),(2008.32,0.878,0.995),(2008.44,0.869,0.995),(2008.54,0.851,0.995),(2008.62,0.842,0.995),(2008.74,0.85,0.995),(2008.92,0.842,0.995),(2009.10,0.851,0.995),(2009.18,0.829,0.995),(2009.28,0.779,0.995),(2009.40,0.743,0.995),(2009.52,0.748,0.995),(2009.64,0.725,0.995),(2009.73,0.716,0.995),(2009.81,0.779,0.995),(2009.93,0.788,0.995),(2010.05,0.77,0.995),(2010.15,0.743,0.995),(2010.23,0.745,0.995),(2010.35,0.77,0.995),(2010.47,0.797,0.995),(2010.57,0.802,0.995),(2010.65,0.779,0.995),(2010.75,0.806,0.995),(2010.89,0.811,0.995),(2011.09,0.82,0.995),(2011.25,0.856,0.995),(2011.37,0.862,0.995),(2011.49,0.851,0.995),(2011.57,0.833,0.995),(2011.67,0.806,0.995),(2011.76,0.824,0.995),(2011.90,0.815,0.995),(2012.08,0.804,0.995),(2012.20,0.82,0.995),(2012.38,0.847,0.995),(2012.53,0.824,0.995),(2012.68,0.833,0.995),(2012.80,0.842,0.995),(2012.92,0.826,0.995),(2013.04,0.82,0.995),(2013.16,0.815,0.995),(2013.28,0.838,0.995),(2013.46,0.842,0.995),(2013.64,0.838,0.995),(2013.82,0.842,0.995),(2013.99,0.851,0.995),(2014.11,0.838,0.995),(2014.23,0.853,0.995),(2014.41,0.851,0.995),(2014.59,0.86,0.995),(2014.77,0.865,0.995),(2015.01,0.862,0.995),(2015.25,0.869,0.995),(2015.55,0.869,0.995),(2015.73,0.878,0.995),(2015.96,0.883,0.995),(2016.20,0.881,0.995),(2016.56,0.874,0.995),(2016.80,0.878,0.995),(2017.16,0.874,0.995),(2017.40,0.88,0.995),(2017.64,0.878,0.995),(2017.99,0.881,0.995),(2018.23,0.874,0.995),(2018.59,0.869,0.995),(2018.83,0.868,0.995),(2019.19,0.869,0.995),(2019.55,0.865,0.995),(2019.79,0.856,0.995),(2020.02,0.86,0.995),(2020.26,0.859,0.995),(2020.56,0.85,0.995),(2020.74,0.856,0.995),(2020.86,0.868,0.995),(2021.04,0.862,0.995),(2021.22,0.869,0.995),(2021.46,0.878,0.995),(2021.70,0.883,0.995),(2022.17,0.883,0.994),(2022.41,0.887,0.994),(2022.53,0.883,0.994),(2022.65,0.869,0.994),(2022.89,0.874,0.994),(2023.13,0.878,0.994),(2023.37,0.874,0.993),(2023.61,0.887,0.993),(2023.85,0.889,0.993),(2024.09,0.892,0.993),(2024.26,0.892,0.993)]

# ---------------- Panel 6: Aliens Work Permit ----------------
alien_line = [(2007.59,0.887),(2007.67,0.896),(2007.76,0.883),(2007.83,0.883),(2007.92,0.878),(2008.01,0.862),(2008.10,0.869),(2008.18,0.869),(2008.28,0.856),(2008.37,0.865),(2008.46,0.874),(2008.54,0.877),(2008.64,0.874),(2008.72,0.878),(2008.82,0.869),(2008.92,0.874),(2009.00,0.878),(2009.10,0.878),(2009.18,0.883),(2009.26,0.878),(2009.36,0.876),(2009.42,0.883),(2009.50,0.883),(2009.58,0.883),(2009.63,0.779),(2009.67,0.768),(2009.75,0.788),(2009.82,0.727),(2009.90,0.734),(2009.99,0.739),(2010.08,0.734),(2010.17,0.707),(2010.24,0.698),(2010.30,0.707),(2010.35,0.68),(2010.42,0.653),(2010.48,0.671),(2010.56,0.725),(2010.62,0.815),(2010.68,0.817),(2010.77,0.826),(2010.87,0.829),(2010.95,0.833),(2011.05,0.835),(2011.14,0.82),(2011.23,0.817),(2011.31,0.826),(2011.41,0.824),(2011.50,0.826),(2011.59,0.815),(2011.67,0.805),(2011.77,0.811),(2011.85,0.797),(2011.95,0.799),(2012.07,0.802),(2012.15,0.799),(2012.25,0.806),(2012.33,0.82),(2012.41,0.822),(2012.49,0.811),(2012.58,0.806),(2012.67,0.802),(2012.76,0.815),(2012.85,0.811),(2012.94,0.808),(2013.03,0.811),(2013.12,0.805),(2013.19,0.814),(2013.27,0.797),(2013.36,0.814),(2013.45,0.805),(2013.54,0.814),(2013.63,0.805),(2013.75,0.802),(2013.88,0.805),(2014.00,0.808),(2014.08,0.811),(2014.18,0.815),(2014.26,0.817),(2014.36,0.814),(2014.44,0.822),(2014.54,0.817),(2014.63,0.814),(2014.72,0.82),(2014.80,0.815),(2014.90,0.822),(2014.99,0.829),(2015.08,0.824),(2015.16,0.833),(2015.24,0.829),(2015.32,0.822),(2015.40,0.826),(2015.50,0.835),(2015.58,0.838),(2015.68,0.842),(2015.77,0.838),(2015.86,0.842),(2015.95,0.84),(2016.04,0.844),(2016.13,0.847),(2016.22,0.842),(2016.32,0.847),(2016.40,0.842),(2016.49,0.838),(2016.58,0.833),(2016.70,0.832),(2016.82,0.833),(2016.92,0.829),(2017.01,0.822),(2017.09,0.826),(2017.16,0.82),(2017.25,0.822),(2017.33,0.815),(2017.43,0.795),(2017.52,0.808),(2017.61,0.814),(2017.69,0.802),(2017.79,0.808),(2017.87,0.805),(2017.97,0.811),(2018.05,0.82),(2018.15,0.811),(2018.23,0.802),(2018.33,0.815),(2018.41,0.829),(2018.49,0.832),(2018.57,0.832),(2018.65,0.829),(2018.73,0.814),(2018.81,0.797),(2018.90,0.793),(2018.99,0.795),(2019.08,0.808),(2019.17,0.805),(2019.26,0.808),(2019.35,0.799),(2019.44,0.802),(2019.53,0.806),(2019.63,0.802),(2019.71,0.805),(2019.81,0.799),(2019.93,0.797),(2020.02,0.802),(2020.10,0.811),(2020.20,0.802),(2020.29,0.799),(2020.38,0.802),(2020.46,0.797),(2020.56,0.797),(2020.65,0.793),(2020.74,0.795),(2020.82,0.799),(2020.92,0.802),(2021.02,0.797),(2021.10,0.799),(2021.18,0.797),(2021.28,0.793),(2021.36,0.79),(2021.44,0.802),(2021.50,0.779),(2021.58,0.77),(2021.67,0.768),(2021.76,0.766),(2021.86,0.757),(2021.94,0.752),(2022.03,0.752),(2022.10,0.743),(2022.19,0.75),(2022.27,0.739),(2022.36,0.734),(2022.46,0.732),(2022.54,0.73),(2022.63,0.732),(2022.72,0.741),(2022.82,0.727),(2022.90,0.739),(2022.99,0.734),(2023.08,0.721),(2023.18,0.709),(2023.27,0.716),(2023.36,0.712),(2023.45,0.718),(2023.51,0.703),(2023.59,0.721),(2023.69,0.732),(2023.78,0.739),(2023.86,0.736),(2023.95,0.739),(2024.04,0.743),(2024.13,0.745),(2024.24,0.748)]
alien_band = [(2007.59,0.626,0.994),(2007.67,0.631,0.994),(2007.76,0.608,0.994),(2007.83,0.613,0.994),(2007.92,0.599,0.994),(2008.00,0.536,0.994),(2008.07,0.568,0.994),(2008.16,0.568,0.994),(2008.28,0.523,0.994),(2008.37,0.55,0.994),(2008.46,0.581,0.994),(2008.54,0.581,0.994),(2008.64,0.608,0.994),(2008.73,0.613,0.994),(2008.82,0.608,0.994),(2008.94,0.59,0.994),(2009.02,0.604,0.994),(2009.12,0.613,0.994),(2009.24,0.626,0.994),(2009.34,0.635,0.994),(2009.42,0.617,0.994),(2009.50,0.64,0.994),(2009.58,0.635,0.993),(2009.63,0.536,0.986),(2009.67,0.338,0.985),(2009.75,0.369,0.984),(2009.81,0.248,0.984),(2009.87,0.086,0.983),(2009.93,0.212,0.983),(2010.00,0.243,0.983),(2010.06,0.212,0.982),(2010.14,0.194,0.982),(2010.23,0.14,0.981),(2010.30,0.203,0.98),(2010.36,0.158,0.98),(2010.42,0.05,0.979),(2010.50,0.086,0.982),(2010.56,0.212,0.986),(2010.62,0.374,0.989),(2010.68,0.482,0.991),(2010.78,0.473,0.991),(2010.87,0.5,0.991),(2010.95,0.514,0.991),(2011.05,0.518,0.991),(2011.14,0.473,0.991),(2011.23,0.459,0.991),(2011.31,0.477,0.991),(2011.41,0.473,0.991),(2011.53,0.464,0.991),(2011.62,0.428,0.991),(2011.73,0.441,0.991),(2011.83,0.428,0.991),(2011.91,0.419,0.991),(2012.01,0.428,0.991),(2012.09,0.432,0.991),(2012.19,0.43,0.991),(2012.25,0.446,0.991),(2012.35,0.482,0.991),(2012.43,0.468,0.991),(2012.51,0.428,0.99),(2012.61,0.446,0.99),(2012.71,0.446,0.99),(2012.79,0.444,0.99),(2012.88,0.448,0.99),(2012.95,0.428,0.99),(2013.03,0.446,0.99),(2013.12,0.439,0.99),(2013.19,0.455,0.99),(2013.27,0.428,0.99),(2013.36,0.437,0.99),(2013.45,0.464,0.99),(2013.54,0.459,0.99),(2013.63,0.428,0.99),(2013.73,0.455,0.99),(2013.84,0.45,0.99),(2013.94,0.446,0.99),(2014.03,0.437,0.99),(2014.12,0.455,0.99),(2014.20,0.473,0.99),(2014.27,0.455,0.99),(2014.37,0.482,0.99),(2014.44,0.464,0.99),(2014.51,0.491,0.99),(2014.60,0.464,0.99),(2014.68,0.5,0.99),(2014.75,0.482,0.99),(2014.84,0.509,0.99),(2014.92,0.491,0.99),(2015.02,0.505,0.99),(2015.09,0.5,0.99),(2015.16,0.514,0.99),(2015.26,0.505,0.99),(2015.36,0.495,0.99),(2015.44,0.507,0.99),(2015.52,0.527,0.99),(2015.62,0.532,0.99),(2015.72,0.545,0.99),(2015.80,0.541,0.99),(2015.89,0.55,0.99),(2015.96,0.541,0.99),(2016.04,0.536,0.99),(2016.14,0.563,0.99),(2016.22,0.55,0.99),(2016.32,0.545,0.99),(2016.40,0.541,0.99),(2016.50,0.536,0.99),(2016.58,0.536,0.99),(2016.68,0.529,0.99),(2016.76,0.523,0.99),(2016.85,0.521,0.99),(2016.95,0.518,0.99),(2017.04,0.509,0.99),(2017.13,0.491,0.99),(2017.22,0.477,0.99),(2017.31,0.482,0.99),(2017.39,0.464,0.99),(2017.45,0.45,0.99),(2017.52,0.473,0.99),(2017.61,0.477,0.99),(2017.69,0.464,0.99),(2017.79,0.482,0.99),(2017.88,0.473,0.99),(2017.97,0.491,0.99),(2018.05,0.505,0.99),(2018.15,0.482,0.99),(2018.25,0.5,0.99),(2018.33,0.518,0.99),(2018.43,0.523,0.99),(2018.51,0.527,0.99),(2018.61,0.518,0.99),(2018.69,0.505,0.99),(2018.75,0.473,0.99),(2018.84,0.457,0.99),(2018.93,0.459,0.99),(2019.02,0.468,0.99),(2019.11,0.482,0.989),(2019.20,0.495,0.989),(2019.29,0.482,0.989),(2019.38,0.473,0.988),(2019.47,0.482,0.988),(2019.57,0.491,0.988),(2019.65,0.5,0.987),(2019.74,0.486,0.987),(2019.83,0.477,0.987),(2019.93,0.482,0.986),(2020.02,0.491,0.986),(2020.10,0.5,0.986),(2020.20,0.482,0.986),(2020.29,0.473,0.986),(2020.38,0.482,0.986),(2020.46,0.477,0.986),(2020.56,0.473,0.986),(2020.65,0.466,0.986),(2020.74,0.464,0.986),(2020.82,0.473,0.986),(2020.92,0.477,0.986),(2021.01,0.477,0.986),(2021.10,0.477,0.986),(2021.18,0.475,0.986),(2021.28,0.468,0.985),(2021.37,0.482,0.985),(2021.46,0.446,0.985),(2021.54,0.41,0.985),(2021.64,0.396,0.984),(2021.74,0.387,0.984),(2021.82,0.374,0.984),(2021.91,0.365,0.983),(2022.00,0.374,0.983),(2022.10,0.347,0.982),(2022.18,0.365,0.982),(2022.27,0.347,0.982),(2022.36,0.338,0.981),(2022.46,0.324,0.981),(2022.54,0.329,0.981),(2022.63,0.333,0.98),(2022.72,0.338,0.98),(2022.82,0.32,0.98),(2022.90,0.338,0.98),(2022.99,0.347,0.98),(2023.08,0.324,0.979),(2023.18,0.293,0.979),(2023.27,0.306,0.979),(2023.35,0.293,0.979),(2023.45,0.284,0.979),(2023.51,0.266,0.979),(2023.59,0.306,0.979),(2023.69,0.315,0.98),(2023.78,0.338,0.98),(2023.86,0.338,0.981),(2023.95,0.315,0.981),(2024.04,0.356,0.981),(2024.13,0.347,0.982),(2024.24,0.365,0.982)]

# ---------------- Styling ----------------
FONT = "Liberation Sans"
W, H = 1088, 406
X_DOMAIN = [2006.753, 2025.082]
Y_DOMAIN = [-0.05, 1.0495]
GRID = "#EBEBEB"
GRID_W = 4.6
LINE_COLOR = "#4682B4"


def x_axis(bottom, with_title):
    kw = dict(values=year_ticks, grid=True, gridColor=GRID, gridWidth=GRID_W,
              domain=False, ticks=False, tickSize=0)
    if bottom:
        kw.update(labels=True, format="d", labelAngle=270, labelAlign="right",
                  labelBaseline="middle", labelPadding=26, labelFontSize=40,
                  labelColor="#4D4D4D", labelFont=FONT, labelFlush=False,
                  labelOverlap=False)
    else:
        kw.update(labels=False)
    if with_title:
        kw.update(title="Date", titleFontSize=50, titleFont=FONT, titleColor="black",
                  titleFontWeight="normal", titleX=1101, titleY=160,
                  titleAlign="center", titleBaseline="alphabetic", titleAngle=0)
    else:
        kw.update(title=None)
    return alt.Axis(**kw)


def y_axis(left, with_title):
    kw = dict(values=k_ticks, grid=True, gridColor=GRID, gridWidth=GRID_W,
              domain=False, ticks=False, tickSize=0)
    if left:
        kw.update(labels=True, format=".2f", labelPadding=25, labelFontSize=40,
                  labelColor="#4D4D4D", labelFont=FONT, labelFlush=False,
                  labelOverlap=False)
    else:
        kw.update(labels=False)
    if with_title:
        kw.update(title="κ", titleFontSize=50, titleFont=FONT, titleColor="black",
                  titleFontWeight="normal", titleX=-120, titleY=203,
                  titleAlign="center", titleBaseline="alphabetic", titleAngle=270)
    else:
        kw.update(title=None)
    return alt.Axis(**kw)


def panel(name, line, band, left, bottom, ytitle=False, xtitle=False):
    ldf = pd.DataFrame(line, columns=["year", "k"])
    bdf = pd.DataFrame(band, columns=["year", "lo", "hi"])
    xs = alt.Scale(domain=X_DOMAIN, nice=False, zero=False)
    ys = alt.Scale(domain=Y_DOMAIN, nice=False, zero=False)
    xa = x_axis(bottom, xtitle)
    ya = y_axis(left, ytitle)
    ribbon = alt.Chart(bdf).mark_area(color=LINE_COLOR, opacity=0.15).encode(
        x=alt.X("year:Q", scale=xs, axis=xa),
        y=alt.Y("lo:Q", scale=ys, axis=ya),
        y2="hi:Q",
    )
    ln = alt.Chart(ldf).mark_line(color=LINE_COLOR, strokeWidth=5, strokeJoin="round").encode(
        x=alt.X("year:Q", scale=xs, axis=xa),
        y=alt.Y("k:Q", scale=ys, axis=ya),
    )
    return alt.layer(ribbon, ln).properties(
        width=W, height=H,
        title=alt.TitleParams(text=name, fontSize=40, font=FONT, fontWeight="bold",
                              color="#1A1A1A", anchor="middle", frame="group",
                              baseline="alphabetic", offset=-18),
    )


panels = [
    panel(panel_names[0], eggs_line, eggs_band, left=True, bottom=False),
    panel(panel_names[1], seas_line, seas_band, left=False, bottom=False),
    panel(panel_names[2], elec_line, elec_band, left=True, bottom=False, ytitle=True),
    panel(panel_names[3], nfb_line, nfb_band, left=False, bottom=False),
    panel(panel_names[4], trans_line, trans_band, left=True, bottom=True, xtitle=True),
    panel(panel_names[5], alien_line, alien_band, left=False, bottom=True),
]

chart = alt.concat(*panels, columns=2, spacing={"row": 102, "column": 25}, bounds="flush").properties(
    title=alt.TitleParams(text=TITLE, fontSize=60, font=FONT, fontWeight="normal",
                          color="black", anchor="start", frame="group",
                          baseline="alphabetic", offset=-2),
    padding={"left": 3, "top": 14, "right": 5, "bottom": 5},
).configure_view(stroke="transparent")

chart.save("out.html", embed_options={"renderer": "svg", "actions": False})
